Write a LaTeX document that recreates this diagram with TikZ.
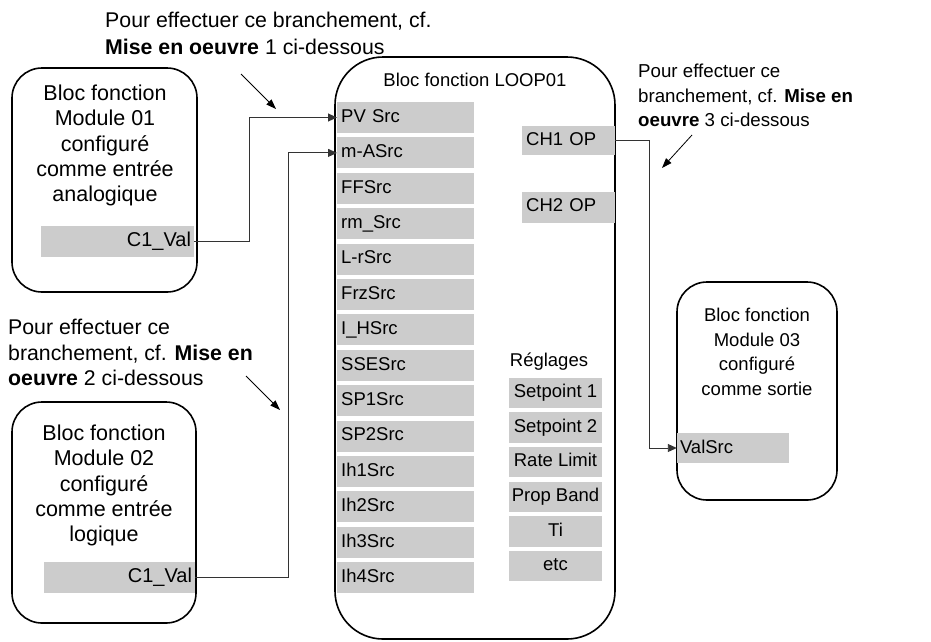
\documentclass[tikz,border=0pt]{standalone}
\usepackage{fontspec}
\setmainfont{Liberation Sans}
\usepackage{tikz}
\usetikzlibrary{arrows.meta,positioning}
\definecolor{boxgray}{HTML}{CCCCCC}
\definecolor{wire}{HTML}{333333}
\newcommand{\bigtxt}{\fontsize{21.5}{25.3}\selectfont}
\newcommand{\smalltxt}{\fontsize{18.5}{24.6}\selectfont}
\begin{document}
\begin{tikzpicture}[x=1pt, y=-1pt, >={Triangle[length=9pt,width=8pt]},
  block/.style={draw, line width=1.6pt, rounded corners=30pt, minimum width=#1, inner sep=0pt},
  item/.style={fill=boxgray, anchor=west, minimum height=31pt, text width=129pt, text height=13.5pt, text depth=4pt, inner xsep=4pt, inner ysep=0pt, align=left, font=\smalltxt},
  param/.style={fill=boxgray, minimum width=93pt, minimum height=30.5pt, text height=13.5pt, text depth=4pt, inner sep=0pt, font=\smalltxt},
  wirebox/.style={fill=boxgray, inner xsep=3pt, inner ysep=0pt, minimum height=31pt, text height=14pt, text depth=4pt},
  conn/.style={->, draw=wire, line width=0.9pt},
  hint/.style={-{Triangle[length=10pt,width=7pt]}, line width=0.8pt},
  txt/.style={inner sep=0pt, align=center}]
\useasboundingbox (0,0) rectangle (931,641);

% function blocks
\node[block=185pt, minimum height=224pt] (m1) at (104.5,180) {};
\node[block=184pt, minimum height=221pt] (m2) at (104,512.5) {};
\node[block=160pt, minimum height=218pt] (m3) at (757,391) {};
\node[block=280pt, minimum height=582pt, rounded corners=48pt] (loop) at (475,348) {};

\node[txt, font=\bigtxt] (m1t) at (105,145.5) {Bloc fonction\\Module 01\\configuré\\comme entrée\\analogique};
\node[txt, font=\bigtxt] (m2t) at (104,485.5) {Bloc fonction\\Module 02\\configuré\\comme entrée\\logique};
\node[txt, font=\smalltxt] (m3t) at (757,352) {Bloc fonction\\Module 03\\configuré\\comme sortie};
\node[txt, font=\smalltxt] (loopt) at (475,80) {Bloc fonction LOOP01};

% outputs / inputs
\node[wirebox, minimum width=153pt, text width=147pt, align=right, font=\fontsize{20}{24}\selectfont] (c1a) at (117.5,241.5) {C1\_Val};
\node[wirebox, minimum width=151pt, text width=145pt, align=right, font=\fontsize{20}{24}\selectfont] (c1b) at (119.5,577.5) {C1\_Val};
\node[wirebox, minimum height=30pt, text width=106pt, align=left, font=\smalltxt] (val) at (733,448) {ValSrc};

% LOOP01 sources
\foreach \name [count=\i] in {PV Src, m-ASrc, FFSrc, rm\_Src, L-rSrc, FrzSrc, I\_HSrc, SSESrc, SP1Src, SP2Src, Ih1Src, Ih2Src, Ih3Src, Ih4Src}
  \node[item] (s\i) at (337,{117.5+35.4*(\i-1)}) {\name};

% LOOP01 outputs
\node[item, text width=85pt, minimum height=29pt] (ch1) at (522,140.5) {CH1 OP};
\node[item, text width=85pt, minimum height=31pt] (ch2) at (522,207) {CH2 OP};

% settings
\node[txt, font=\smalltxt] (regl) at (549,362) {Réglages};
\foreach \name [count=\i] in {Setpoint 1, Setpoint 2, Rate Limit, Prop Band, Ti, etc}
  \node[param] (r\i) at (555.5,{393+34.6*(\i-1)}) {\name};

% connections
\draw[conn] (c1a.east) -- ++(55,0) |- (s1.west);
\draw[conn] (c1b.east) -- ++(93,0) |- (s2.west);
\draw[conn] (ch1.east) -- ++(34,0) |- (val.west);

% notes
\node[txt, align=left, anchor=west, font=\fontsize{21.3}{27}\selectfont] (n1) at (105,33.5) {Pour effectuer ce branchement, cf.\\\textbf{Mise en oeuvre} 1 ci-dessous};
\node[txt, align=left, anchor=west, font=\fontsize{21.3}{25.5}\selectfont] (n2) at (8,352.5) {Pour effectuer ce\\branchement, cf. \textbf{Mise en}\\\textbf{oeuvre} 2 ci-dessous};
\node[txt, align=left, anchor=west, font=\fontsize{18.7}{24.5}\selectfont] (n3) at (638,95.5) {Pour effectuer ce\\branchement, cf. \textbf{Mise en}\\\textbf{oeuvre} 3 ci-dessous};

\coordinate (h1a) at (241,74);  \coordinate (h1b) at (276,109);
\coordinate (h2a) at (246,376); \coordinate (h2b) at (280,410);
\coordinate (h3a) at (692,135); \coordinate (h3b) at (662,168);
\draw[hint] (h1a) -- (h1b);
\draw[hint] (h2a) -- (h2b);
\draw[hint] (h3a) -- (h3b);
\end{tikzpicture}
\end{document}
